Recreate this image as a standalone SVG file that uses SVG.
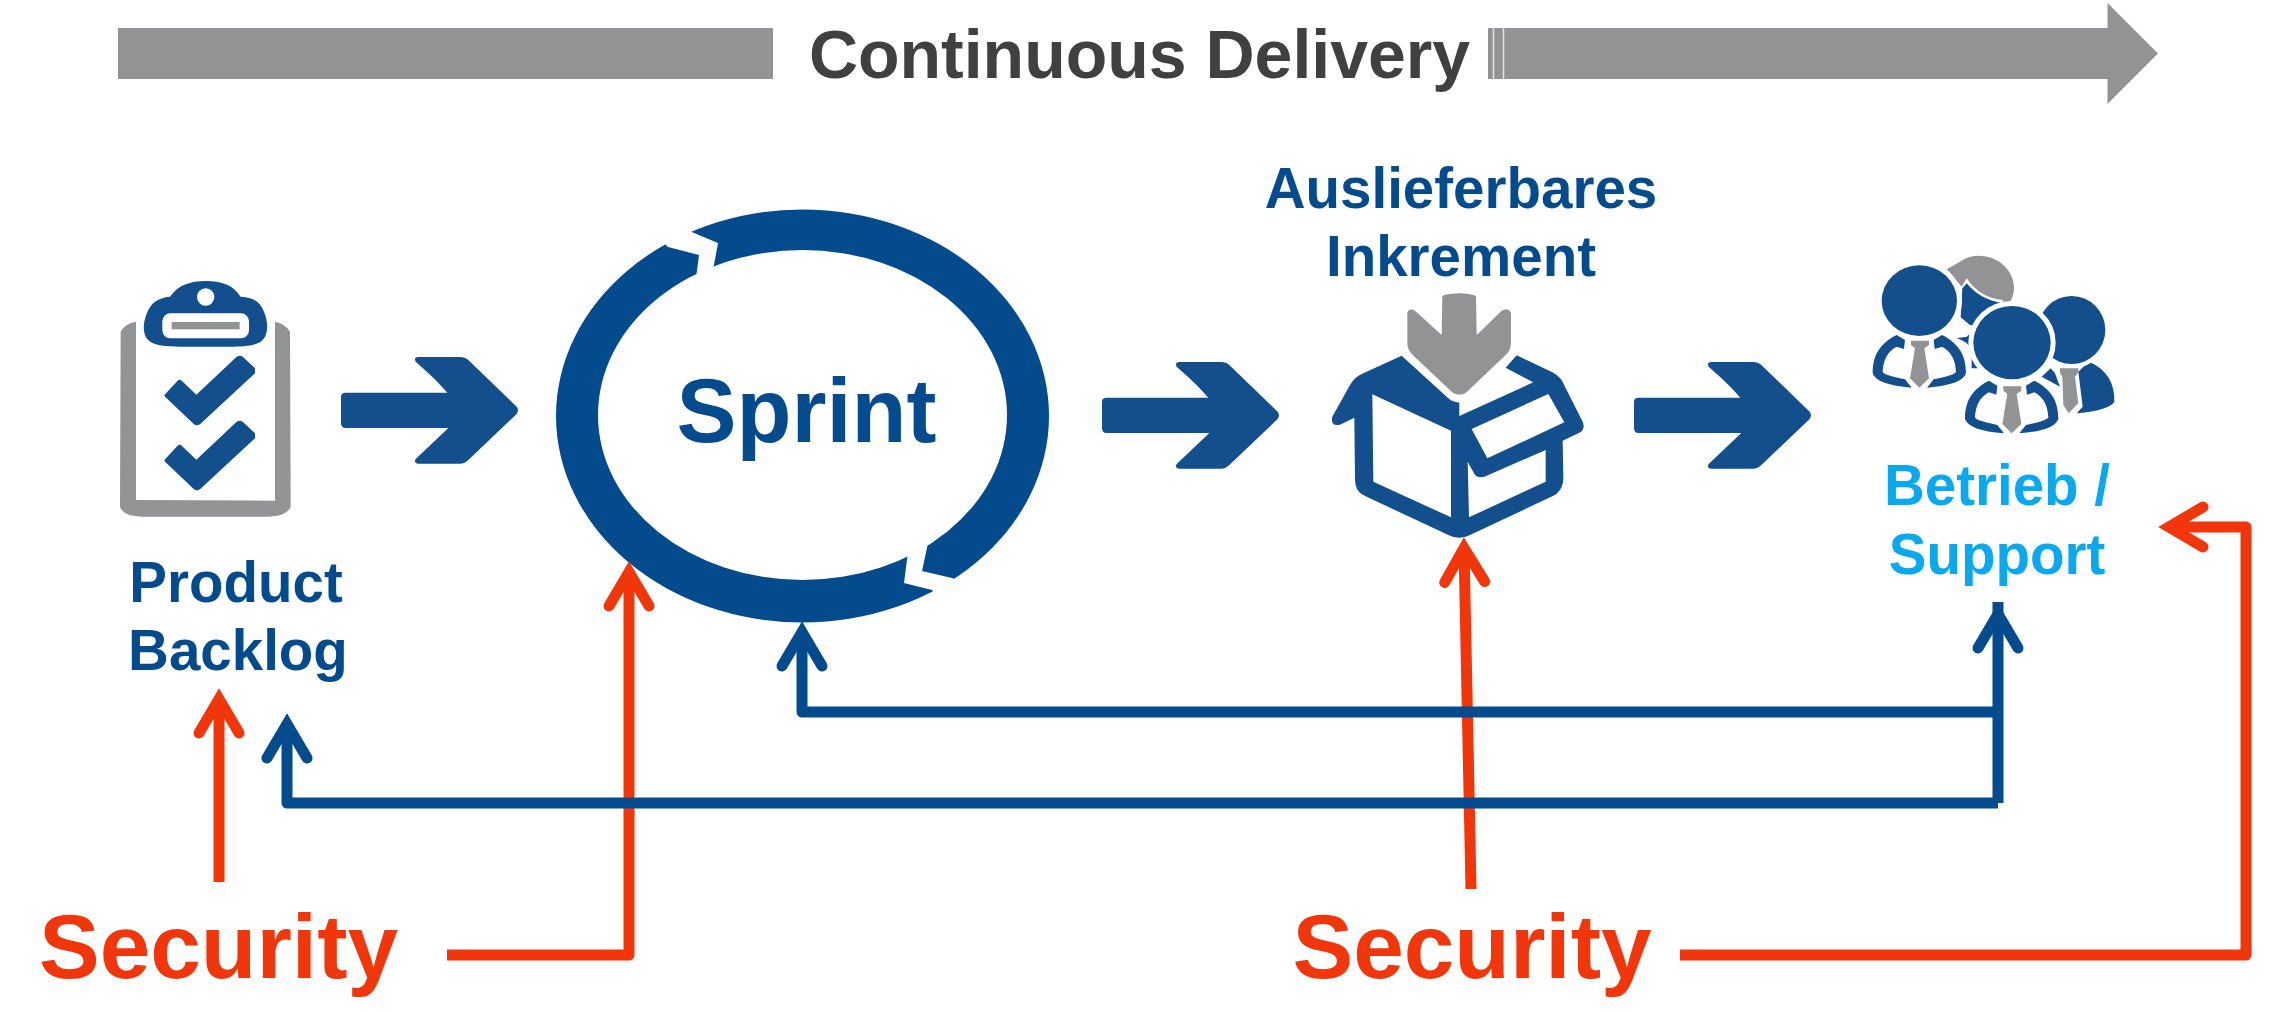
<svg xmlns="http://www.w3.org/2000/svg" width="2282" height="1013" viewBox="0 0 2282 1013">
<style>
text{font-family:"Liberation Sans",Arial,sans-serif;font-weight:700;text-anchor:middle}
.lbl{font-size:56.5px;fill:#034b8c}
.sup{font-size:56.5px;fill:#0aa8ee}
.sec{font-size:91px;fill:#f2360c}
.ic{fill:#124f8c}
.gr{fill:#929395}
.wh{fill:#fff}
.head{fill:#124f8c;stroke:#fff;stroke-width:30;paint-order:stroke}
.rd{fill:none;stroke:#f2360c;stroke-width:11;stroke-linejoin:round}
.bl{fill:none;stroke:#034b8c;stroke-width:11;stroke-linejoin:round}
</style>
<defs>
<marker id="hr" markerUnits="userSpaceOnUse" viewBox="-50 -30 70 60" markerWidth="70" markerHeight="60" refX="0" refY="0" orient="auto"><path d="M-34,-20 L0,0 L-34,20" fill="none" stroke="#f2360c" stroke-width="11" stroke-linecap="round" stroke-linejoin="miter"/></marker>
<marker id="hb" markerUnits="userSpaceOnUse" viewBox="-50 -30 70 60" markerWidth="70" markerHeight="60" refX="0" refY="0" orient="auto"><path d="M-34,-20 L0,0 L-34,20" fill="none" stroke="#034b8c" stroke-width="11" stroke-linecap="round" stroke-linejoin="miter"/></marker>
<path id="block" d="M753,410 Q753,398 767,398 L1072,398 C1040,360 1010,335 977,305 Q970,292 985,291 L1110,291 Q1125,291 1135,300 L1280,440 Q1288,451 1280,462 L1135,600 Q1125,611 1110,611 L985,611 Q970,609 977,597 L1075,504 L767,504 Q753,504 753,490 Z"/>
<path id="check" d="M223,405 L265,360 Q270,358 275,362 L319,404 L440,290 Q450,285 458,290 L495,325 V340 L330,493 Q320,498 312,493 L225,410 Z"/>
<g id="person">
<path class="ic" d="M290,285 C240,310 218,345 218,400 Q230,435 335,443 L315,418 Q250,405 248,395 C250,360 262,335 290,320 L312,327 L315,300 Z"/>
<path class="ic" d="M426,285 C476,310 498,345 498,400 Q486,435 381,443 L401,418 Q466,405 468,395 C466,360 454,335 426,320 L404,327 L401,300 Z"/>
<path class="gr" d="M333,302 L387,302 L387,315 L373,325 L387,415 L358,443 L330,415 L345,325 L333,315 Z"/>
</g>
</defs>

<g id="continuous-delivery">
<rect class="gr" x="118" y="28" width="655" height="51"/>
<path class="gr" d="M1488,28 H2107.5 V3 L2158,53.500 L2107.5,104 V79 H1488 Z"/>
<path d="M1493.5,28 V79 M1503.5,28 V79" stroke="#e4e4e4" stroke-width="1.5" fill="none"/>
<text x="1139.500" y="78" font-size="68" fill="#404040">Continuous Delivery</text>
</g>

<g id="product-backlog">
<g transform="translate(90,260) scale(0.33333)">
<path class="gr" d="M138,185 Q105,190 92,215 L90,740 Q100,770 160,770 L530,770 Q590,770 602,740 L600,215 Q585,190 555,185 L555,722 L138,720 Z"/>
<path class="ic" fill-rule="evenodd" d="M240,110 C265,75 300,63 347,63 C395,63 430,75 452,110 C490,112 510,125 522,155 C535,185 535,220 520,238 C505,258 460,260 420,260 L270,260 C230,260 190,258 172,238 C155,215 160,180 175,150 C190,120 215,112 240,110 Z M373,111 A26,26 0 1 0 321,111 A26,26 0 1 0 373,111 Z"/>
<rect class="wh" x="217" y="160" width="260" height="75" rx="24"/>
<rect class="gr" x="245" y="186" width="204" height="22"/>
<use href="#check" class="ic"/>
<use href="#check" class="ic" y="195"/>
</g>
<text class="lbl" x="236" y="602">Product</text>
<text class="lbl" x="238" y="670">Backlog</text>
</g>

<g id="arrow-1" transform="translate(90,260) scale(0.33333)"><use href="#block" class="ic"/></g>

<g id="sprint">
<path fill-rule="evenodd" fill="#034b8c" d="M556,416 A246.500,206.500 0 1 1 1049,416 A246.500,206.500 0 1 1 556,416 Z M598,415 A204.500,165 0 1 0 1007,415 A204.500,165 0 1 0 598,415 Z"/>
<path class="wh" d="M687,230 L718,243 L713,270 L696,278 L699,255 L668,247 L664,243 Z"/>
<path class="wh" d="M908,552 L904,583 L932,590 L936,594 L958,580 L952,578 L922,571 L928,543 Z"/>
<text x="806.500" y="442" font-size="90" fill="#034b8c">Sprint</text>
</g>

<g id="arrow-2" transform="translate(851,265) scale(0.33333)"><use href="#block" class="ic"/></g>

<g id="increment">
<text class="lbl" x="1461" y="208">Auslieferbares</text>
<text class="lbl" x="1461" y="276">Inkrement</text>
<g transform="translate(1300,280) scale(0.33333)">
<path class="gr" d="M427,50 Q430,42 478,40 Q525,42 528,50 L530,165 L605,92 Q625,80 633,100 L633,190 Q632,210 620,222 L498,338 Q478,350 458,338 L335,222 Q322,208 322,190 L322,100 Q325,82 345,92 L425,165 Z"/>
<path class="ic" fill-rule="evenodd" d="M305,227 L445,355 Q458,366 478,368 L478,408 L700,307 L617,263 L650,226 L760,278 Q785,292 795,320 L848,425 Q858,450 835,460 L788,482 L790,590 Q792,625 765,645 L510,765 Q478,782 445,765 L195,648 Q165,635 165,600 L163,413 L120,434 Q90,440 97,410 L150,315 Q165,290 190,280 Z M217,343 L453,452 L453,712 L220,605 Z M515,447 L745,342 L793,427 L562,535 Z M503,545 L525,585 Q540,598 565,585 L737,510 L737,605 L507,712 Z"/>
</g>
</g>

<g id="arrow-3" transform="translate(1383,265) scale(0.33333)"><use href="#block" class="ic"/></g>

<g id="support">
<g transform="translate(1800,240) scale(0.33333)">
<path class="gr" d="M440,88 L480,65 Q510,45 545,48 C600,50 640,95 642,140 C643,170 630,185 620,205 L600,200 L610,180 Q540,175 500,115 L485,140 Z"/>
<path class="ic" d="M487,145 L500,130 Q540,178 600,188 L600,250 L560,385 L515,385 L515,330 Q505,305 470,295 L500,290 L525,268 L482,232 Z"/>
<path d="M480,250 Q505,265 530,258" fill="none" stroke="#fff" stroke-width="9"/>
<ellipse class="head" cx="358" cy="182" rx="113" ry="106"/>
<use href="#person"/>
<path class="ic" d="M873,368 C920,390 945,430 943,485 Q930,510 830,520 L848,500 L835,395 L850,380 Z M725,410 L752,385 L765,400 L780,440 Z"/>
<path class="gr" d="M780,385 L835,385 L835,398 L825,410 L835,490 L806,520 L790,495 L787,410 L780,398 Z"/>
<ellipse class="ic" cx="815" cy="270" rx="101" ry="102"/>
<ellipse class="head" cx="636" cy="308" rx="116" ry="110"/>
<use href="#person" x="277" y="137"/>
</g>
<text class="sup" x="1997" y="505">Betrieb /</text>
<text class="sup" x="1997" y="574">Support</text>
</g>

<g id="security-left"><text class="sec" x="218.500" y="978">Security</text></g>
<g id="security-right"><text class="sec" x="1472" y="978">Security</text></g>

<g id="connectors">
<path class="rd" d="M219,882 V699" marker-end="url(#hr)"/>
<path class="rd" d="M447,955 H629 V572" marker-end="url(#hr)"/>
<path class="rd" d="M1471,889 L1464,548" marker-end="url(#hr)"/>
<path class="rd" d="M1680,955 H2246 V527 H2169" marker-end="url(#hr)"/>
<path class="bl" d="M1998,712 H802 V632" marker-end="url(#hb)"/>
<path class="bl" d="M1998,803 H287 V724" marker-end="url(#hb)"/>
<path class="bl" d="M1998,803 V614" marker-end="url(#hb)"/>
<path class="bl" d="M1998,614 V602"/>
</g>
</svg>
